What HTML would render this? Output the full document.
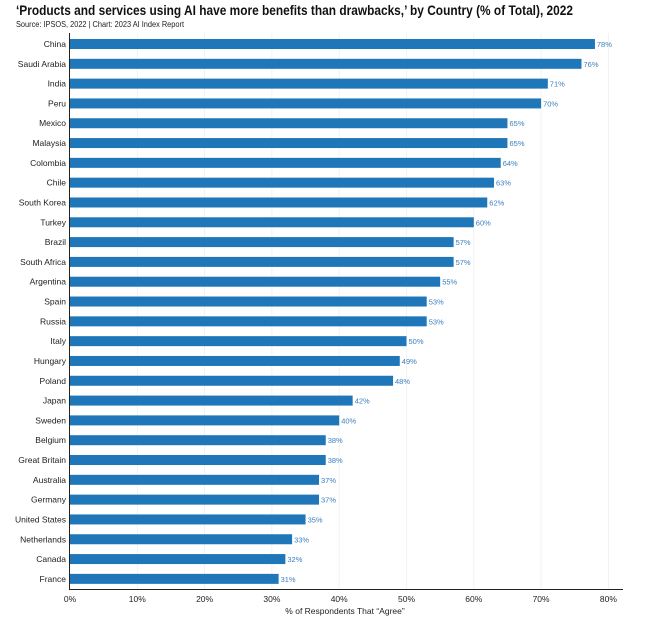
<!DOCTYPE html>
<html><head><meta charset="utf-8"><style>
body{margin:0;background:#fff;}
svg{display:block;font-family:"Liberation Sans",sans-serif;}
.l{font-size:8.5px;text-anchor:end;fill:#222}
.v{font-size:7.5px;fill:#3b7fbf}
.t{font-size:8.5px;text-anchor:middle;fill:#222}
</style></head><body>
<svg width="660" height="621" viewBox="0 0 660 621">
<text x="16" y="15" font-size="14" font-weight="bold" fill="#111" textLength="557" lengthAdjust="spacingAndGlyphs">‘Products and services using AI have more benefits than drawbacks,’ by Country (% of Total), 2022</text>
<text x="16" y="27" font-size="8" fill="#222" textLength="168" lengthAdjust="spacingAndGlyphs">Source: IPSOS, 2022 | Chart: 2023 AI Index Report</text>
<g stroke="#eee" stroke-width="0.7">
<line x1="137.3" y1="33" x2="137.3" y2="589"/><line x1="204.6" y1="33" x2="204.6" y2="589"/><line x1="271.9" y1="33" x2="271.9" y2="589"/><line x1="339.2" y1="33" x2="339.2" y2="589"/><line x1="406.5" y1="33" x2="406.5" y2="589"/><line x1="473.8" y1="33" x2="473.8" y2="589"/><line x1="541.1" y1="33" x2="541.1" y2="589"/><line x1="608.4" y1="33" x2="608.4" y2="589"/>
</g>
<g transform="translate(0,44)"><rect x="70" y="-5" width="524.94" height="10" fill="#1f77b9"/><text class="l" x="66" y="3">China</text><text class="v" x="596.9" y="3">78%</text></g>
<g transform="translate(0,63.81)"><rect x="70" y="-5" width="511.48" height="10" fill="#1f77b9"/><text class="l" x="66" y="3">Saudi Arabia</text><text class="v" x="583.5" y="3">76%</text></g>
<g transform="translate(0,83.62)"><rect x="70" y="-5" width="477.83" height="10" fill="#1f77b9"/><text class="l" x="66" y="3">India</text><text class="v" x="549.8" y="3">71%</text></g>
<g transform="translate(0,103.43)"><rect x="70" y="-5" width="471.1" height="10" fill="#1f77b9"/><text class="l" x="66" y="3">Peru</text><text class="v" x="543.1" y="3">70%</text></g>
<g transform="translate(0,123.24)"><rect x="70" y="-5" width="437.45" height="10" fill="#1f77b9"/><text class="l" x="66" y="3">Mexico</text><text class="v" x="509.5" y="3">65%</text></g>
<g transform="translate(0,143.05)"><rect x="70" y="-5" width="437.45" height="10" fill="#1f77b9"/><text class="l" x="66" y="3">Malaysia</text><text class="v" x="509.5" y="3">65%</text></g>
<g transform="translate(0,162.86)"><rect x="70" y="-5" width="430.72" height="10" fill="#1f77b9"/><text class="l" x="66" y="3">Colombia</text><text class="v" x="502.7" y="3">64%</text></g>
<g transform="translate(0,182.67)"><rect x="70" y="-5" width="423.99" height="10" fill="#1f77b9"/><text class="l" x="66" y="3">Chile</text><text class="v" x="496" y="3">63%</text></g>
<g transform="translate(0,202.48)"><rect x="70" y="-5" width="417.26" height="10" fill="#1f77b9"/><text class="l" x="66" y="3">South Korea</text><text class="v" x="489.3" y="3">62%</text></g>
<g transform="translate(0,222.29)"><rect x="70" y="-5" width="403.8" height="10" fill="#1f77b9"/><text class="l" x="66" y="3">Turkey</text><text class="v" x="475.8" y="3">60%</text></g>
<g transform="translate(0,242.1)"><rect x="70" y="-5" width="383.61" height="10" fill="#1f77b9"/><text class="l" x="66" y="3">Brazil</text><text class="v" x="455.6" y="3">57%</text></g>
<g transform="translate(0,261.91)"><rect x="70" y="-5" width="383.61" height="10" fill="#1f77b9"/><text class="l" x="66" y="3">South Africa</text><text class="v" x="455.6" y="3">57%</text></g>
<g transform="translate(0,281.72)"><rect x="70" y="-5" width="370.15" height="10" fill="#1f77b9"/><text class="l" x="66" y="3">Argentina</text><text class="v" x="442.2" y="3">55%</text></g>
<g transform="translate(0,301.53)"><rect x="70" y="-5" width="356.69" height="10" fill="#1f77b9"/><text class="l" x="66" y="3">Spain</text><text class="v" x="428.7" y="3">53%</text></g>
<g transform="translate(0,321.34)"><rect x="70" y="-5" width="356.69" height="10" fill="#1f77b9"/><text class="l" x="66" y="3">Russia</text><text class="v" x="428.7" y="3">53%</text></g>
<g transform="translate(0,341.15)"><rect x="70" y="-5" width="336.5" height="10" fill="#1f77b9"/><text class="l" x="66" y="3">Italy</text><text class="v" x="408.5" y="3">50%</text></g>
<g transform="translate(0,360.96)"><rect x="70" y="-5" width="329.77" height="10" fill="#1f77b9"/><text class="l" x="66" y="3">Hungary</text><text class="v" x="401.8" y="3">49%</text></g>
<g transform="translate(0,380.77)"><rect x="70" y="-5" width="323.04" height="10" fill="#1f77b9"/><text class="l" x="66" y="3">Poland</text><text class="v" x="395" y="3">48%</text></g>
<g transform="translate(0,400.58)"><rect x="70" y="-5" width="282.66" height="10" fill="#1f77b9"/><text class="l" x="66" y="3">Japan</text><text class="v" x="354.7" y="3">42%</text></g>
<g transform="translate(0,420.39)"><rect x="70" y="-5" width="269.2" height="10" fill="#1f77b9"/><text class="l" x="66" y="3">Sweden</text><text class="v" x="341.2" y="3">40%</text></g>
<g transform="translate(0,440.2)"><rect x="70" y="-5" width="255.74" height="10" fill="#1f77b9"/><text class="l" x="66" y="3">Belgium</text><text class="v" x="327.7" y="3">38%</text></g>
<g transform="translate(0,460.01)"><rect x="70" y="-5" width="255.74" height="10" fill="#1f77b9"/><text class="l" x="66" y="3">Great Britain</text><text class="v" x="327.7" y="3">38%</text></g>
<g transform="translate(0,479.82)"><rect x="70" y="-5" width="249.01" height="10" fill="#1f77b9"/><text class="l" x="66" y="3">Australia</text><text class="v" x="321" y="3">37%</text></g>
<g transform="translate(0,499.63)"><rect x="70" y="-5" width="249.01" height="10" fill="#1f77b9"/><text class="l" x="66" y="3">Germany</text><text class="v" x="321" y="3">37%</text></g>
<g transform="translate(0,519.44)"><rect x="70" y="-5" width="235.55" height="10" fill="#1f77b9"/><text class="l" x="66" y="3">United States</text><text class="v" x="307.6" y="3">35%</text></g>
<g transform="translate(0,539.25)"><rect x="70" y="-5" width="222.09" height="10" fill="#1f77b9"/><text class="l" x="66" y="3">Netherlands</text><text class="v" x="294.1" y="3">33%</text></g>
<g transform="translate(0,559.06)"><rect x="70" y="-5" width="215.36" height="10" fill="#1f77b9"/><text class="l" x="66" y="3">Canada</text><text class="v" x="287.4" y="3">32%</text></g>
<g transform="translate(0,578.87)"><rect x="70" y="-5" width="208.63" height="10" fill="#1f77b9"/><text class="l" x="66" y="3">France</text><text class="v" x="280.6" y="3">31%</text></g>
<line x1="69.5" y1="33" x2="69.5" y2="590" stroke="#222" stroke-width="1"/>
<line x1="69" y1="589.5" x2="623" y2="589.5" stroke="#222" stroke-width="1"/>
<text class="t" x="70" y="602">0%</text><text class="t" x="137.3" y="602">10%</text><text class="t" x="204.6" y="602">20%</text><text class="t" x="271.9" y="602">30%</text><text class="t" x="339.2" y="602">40%</text><text class="t" x="406.5" y="602">50%</text><text class="t" x="473.8" y="602">60%</text><text class="t" x="541.1" y="602">70%</text><text class="t" x="608.4" y="602">80%</text>
<text class="t" x="345" y="614">% of Respondents That “Agree”</text>
</svg>
</body></html>
